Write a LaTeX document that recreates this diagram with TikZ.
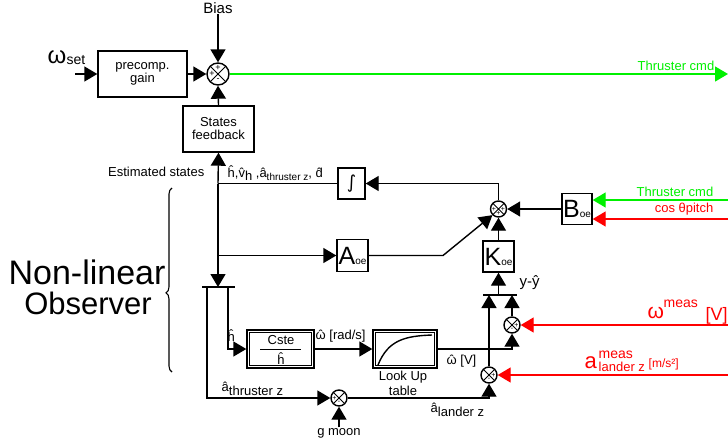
\documentclass[tikz,border=0pt]{standalone}
\usepackage{fontspec}
\setmainfont{Liberation Sans}
\newfontfamily\dejavu{DejaVu Sans}
\usetikzlibrary{arrows.meta,calc,decorations.pathreplacing}
\newcommand\fs[1]{\fontsize{#1}{#1}\selectfont}
\newcommand\hatof[1]{{\ooalign{#1\cr\hidewidth ˆ\hidewidth\cr}}}
\definecolor{rd}{RGB}{255,0,0}
\definecolor{gr}{RGB}{0,240,0}
\begin{document}
\begin{tikzpicture}[x=1pt,y=-1pt,
  line width=1.4pt,
  arr/.style={-{Triangle[length=13pt,width=15pt]}},
  box/.style={draw, line width=1.4pt, inner sep=0pt, align=center, font=\fs{13}},
  sum/.style={circle, draw, line width=1.4pt, minimum size=16pt, inner sep=0pt,
    path picture={\draw[line width=0.9pt] (path picture bounding box.north west) -- (path picture bounding box.south east)
      (path picture bounding box.north east) -- (path picture bounding box.south west);}},
  bigsum/.style={sum, minimum size=22pt},
  sgn/.style={font=\fs{7}, inner sep=0pt},
  bsgn/.style={font=\fs{9}, inner sep=0pt},
  lbl/.style={inner sep=0pt, font=\fs{13}},
  bar/.style={line width=2.2pt},
]
\useasboundingbox (0,0) rectangle (728,445);
\fill[white] (0,0) rectangle (728,445);

% ---------- controller part ----------
\node[lbl, font=\fs{15}, anchor=base] (bias) at (218,13) {Bias};
\node[bigsum] (s1) at (218,74) {};
\node[bsgn] at ($(s1)+(0,-6)$) {+};
\node[bsgn] at ($(s1)+(-6,0)$) {+};
\node[bsgn] at ($(s1)+(0,6)$) {-};

\node[box, minimum width=89pt, minimum height=46pt] (pre) at (142.5,74) {precomp.\\gain};
\node[box, minimum width=71pt, minimum height=46pt] (sf) at (218.5,129) {States\\feedback};

\node[lbl, anchor=base west, font=\fs{24}] (wset) at (47,63) {ω};
\node[lbl, anchor=base west, font=\fs{14}] (wsetsub) at (66,64) {set};
\coordinate (win) at (75,74);

\draw[arr] (win) -- (pre.west);
\draw[arr] (pre.east) -- (s1.west);
\draw[arr] (bias.south) -- (s1.north);
\draw[arr] (sf.north) -- (s1.south);
\coordinate (tout) at (728,74);
\draw[gr, arr] (s1.east) -- (tout);
\node[lbl, gr, anchor=base east] (tcmd1) at (715,70) {Thruster cmd};

% ---------- observer ----------
\node[lbl, anchor=base east] (est) at (205,176) {Estimated states};
\node[lbl, anchor=base west] (stl) at (227,177) {ĥ,\hatof{v}\raisebox{-3pt}{h} ,â\raisebox{-3pt}{\fs{10}thruster z}, \hatof{d}};

\node[box, minimum width=27pt, minimum height=31pt, font=\dejavu\fs{18}] (integ) at (351.5,183.5) {∫};
\node[box, minimum width=31pt, minimum height=32pt, font=\fs{25}] (aoe) at (352.5,255.5) {A{\fs{10}oe}};
\node[box, minimum width=30pt, minimum height=31pt, font=\fs{25}] (boe) at (577,209) {B{\fs{10}oe}};
\node[box, minimum width=31pt, minimum height=31pt, font=\fs{25}] (koe) at (498.5,256.5) {K{\fs{10}oe}};

\node[sum] (s2) at (498.5,209) {};
\node[sgn] at ($(s2)+(-4.5,0.5)$) {+};
\node[sgn] at ($(s2)+(4.5,0.5)$) {+};
\node[sgn] at ($(s2)+(0,4.5)$) {+};

\coordinate (j1) at (218,183.5);
\coordinate (j2) at (218,255.5);
\coordinate (barL) at (218,287);
\coordinate (barLa) at (202,287);
\coordinate (barLb) at (235,287);
\draw[bar] (barLa) -- (barLb);

\draw (integ.west) -- (j1);
\draw[arr] (j1) -- (sf.south);
\draw[arr] (j1) -- (barL);
\draw[arr] (j2) -- (aoe.west);
\coordinate (kink) at (443,255.5);
\draw[arr] (aoe.east) -- (kink) -- (s2.south west);
\draw[arr] (s2.north) |- (integ.east);
\draw[arr] (boe.west) -- (s2.east);
\draw[arr] (koe.north) -- (s2.south);

\coordinate (gin) at (728,200);
\coordinate (cin) at (728,219);
\draw[gr, arr] (gin) -- (boe.east |- gin);
\draw[rd, arr] (cin) -- (boe.east |- cin);
\node[lbl, gr, anchor=base east] (tcmd2) at (714,196) {Thruster cmd};
\node[lbl, rd, anchor=base east] (cosl) at (714,212) {cos θpitch};

% bar above K
\coordinate (barR) at (498.5,295);
\coordinate (barRa) at (483,295);
\coordinate (barRb) at (517,295);
\draw[bar] (barRa) -- (barRb);
\draw[arr] (barR) -- (koe.south);
\node[lbl, anchor=base west, font=\fs{15}] (yy) at (519,286) {y-ŷ};

% measurement sums
\node[sum] (s3) at (512,325) {};
\node[sgn] at ($(s3)+(4.5,0.5)$) {+};
\node[sgn] at ($(s3)+(0,4.5)$) {-};
\node[sum] (s4) at (489,375) {};
\node[sgn] at ($(s4)+(4.5,0.5)$) {+};
\node[sgn] at ($(s4)+(0,4.5)$) {-};
\node[sum] (s5) at (339,398) {};
\node[sgn] at ($(s5)+(-4.5,0.5)$) {+};
\node[sgn] at ($(s5)+(0,4.5)$) {-};

\draw[arr] (s3.north) -- (s3.north |- barR);
\draw[arr] (s4.north) -- (s4.north |- barR);

\coordinate (win3) at (728,325);
\coordinate (ain4) at (728,375);
\draw[rd, arr] (win3) -- (s3.east);
\draw[rd, arr] (ain4) -- (s4.east);

\node[lbl, rd, anchor=base west, font=\fs{21}] (wm) at (647,318) {ω};
\node[lbl, rd, anchor=base west, font=\fs{14}] (wmsup) at (663,307) {meas};
\node[lbl, rd, anchor=base west, font=\fs{18}] (wmv) at (705,320) {[V]};
\node[lbl, rd, anchor=base west, font=\fs{22}] (am) at (584,368) {a};
\node[lbl, rd, anchor=base west, font=\fs{14}] (amsup) at (598,358) {meas};
\node[lbl, rd, anchor=base west, font=\fs{13}] (amsub) at (598,371) {lander z};
\node[lbl, rd, anchor=base west, font=\fs{12}] (amu) at (648,367) {[m/s²]};

% Cste / h and look-up table
\node[box, minimum width=67pt, minimum height=38pt] (cste) at (280.5,349) {};
\draw[line width=1.1pt] ([xshift=3pt,yshift=3pt]cste.south west) rectangle ([xshift=-3pt,yshift=-3pt]cste.north east);
\node[lbl] (cnum) at (281,340) {Cste};
\coordinate (fra) at (260,349);
\coordinate (frb) at (301,349);
\draw[line width=1pt] (fra) -- (frb);
\node[lbl] (cden) at (281,359) {ĥ};

\node[box, minimum width=64pt, minimum height=38pt] (lut) at (405,349) {};
\draw[line width=1.1pt] ([xshift=3pt,yshift=3pt]lut.south west) rectangle ([xshift=-3pt,yshift=-3pt]lut.north east);
\coordinate (c0) at (378,365);
\coordinate (c1) at (432,335);
\draw[line width=1.4pt] (c0) .. controls (388,340) and (405,336) .. (c1);
\node[lbl, anchor=base] (lu1) at (403,380) {Look Up};
\node[lbl, anchor=base] (lu2) at (403,395) {table};

\draw[arr] (barLb -| 228,0) |- (cste.west);
\draw[arr] (barLa -| 207,0) |- (s5.west);
\draw[arr] (cste.east) -- (lut.west);
\draw[arr] (lut.east) -| (s3.south);
\draw[arr] (s5.east) -| (s4.south);

\node[lbl, anchor=base west] (hl) at (227,341) {ĥ};
\node[lbl, anchor=base west] (wrad) at (315,339) {\hatof{ω} [rad/s]};
\node[lbl, anchor=base west] (wv) at (446,364) {\hatof{ω} [V]};
\node[lbl, anchor=base west] (athr) at (221,391) {â\raisebox{-4pt}{thruster z}};
\node[lbl, anchor=base west] (alan) at (430,412) {â\raisebox{-4pt}{lander z}};
\node[lbl, anchor=base] (gmoon) at (339,435) {g moon};
\draw[arr] (gmoon.north) -- (s5.south);

% brace and title
\draw[line width=1.1pt, decorate, decoration={brace, amplitude=6pt, aspect=0.43}] (172,372) -- (172,188);
\node[lbl, anchor=base, font=\fs{34}, text depth=0pt] (nl) at (87,284) {Non-linear};
\node[lbl, anchor=base, font=\fs{31}, text height=23pt] (obs) at (88,314) {Observer};
\end{tikzpicture}
\end{document}
